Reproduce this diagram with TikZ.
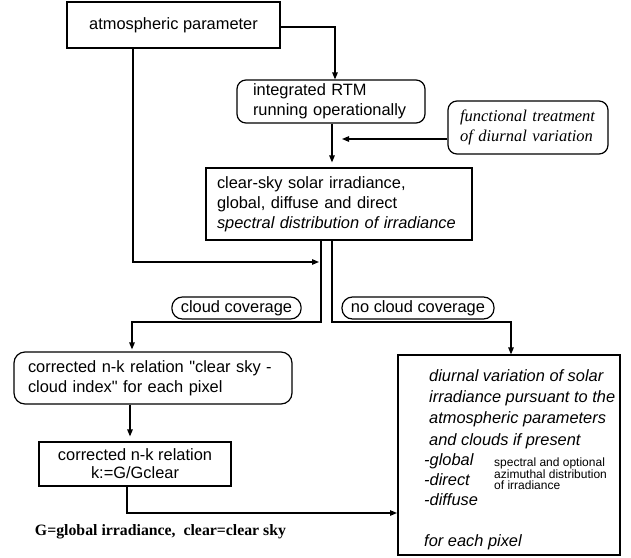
\documentclass[tikz,border=0pt]{standalone}
\usepackage{fontspec}
\setmainfont{Liberation Sans}[Ligatures=TeXOff]
\newfontfamily\serifit{Liberation Serif}
\usetikzlibrary{arrows.meta,calc}
\tikzset{
  lw/.style={line width=1.2pt},
  arr/.style={lw,-{Triangle[length=7pt,width=5.5pt]}},
  conn/.style={lw},
  sqbox/.style={draw,lw,inner ysep=0pt,align=left,font=\fontsize{16.4}{20}\selectfont},
  rbox/.style={sqbox,rounded corners=9pt},
  pill/.style={draw,lw,rounded corners=10.5pt,minimum height=22pt,inner xsep=9pt,inner ysep=0pt,font=\fontsize{16.4}{20}\selectfont},
  txt/.style={inner sep=0pt,align=left,anchor=west}
}
\begin{document}
\begin{tikzpicture}[x=1pt,y=-1pt]
\useasboundingbox (0,0) rectangle (631,557);
% boxes
\node[sqbox,align=center,minimum width=213pt,minimum height=46pt] (atm) at (173.5,25) {atmospheric parameter};
\node[rbox,text width=156pt,inner xsep=16pt,minimum height=43pt] (rtm) at (331,101.5) {integrated RTM\\running operationally};
\node[rbox,text width=136pt,inner xsep=12pt,minimum height=53pt,font=\serifit\itshape\fontsize{16.5}{20}\selectfont] (func) at (528,127.5) {functional treatment\\of diurnal variation};
\node[sqbox,text width=244pt,inner xsep=11pt,minimum height=72pt] (clear) at (339,204) {clear-sky solar irradiance,\\global, diffuse and direct\\\textit{spectral distribution of irradiance}};
\node[rbox,text width=250pt,inner xsep=14pt,minimum height=52pt,rounded corners=11pt] (nk1) at (153,378) {corrected n-k relation "clear sky -\\cloud index" for each pixel};
\node[sqbox,align=center,minimum width=192pt,minimum height=44pt,font=\fontsize{16.4}{18}\selectfont] (nk2) at (135,464) {corrected n-k relation\\k:=G/Gclear};
\node[draw,lw,minimum width=222pt,minimum height=200pt] (diur) at (509,455) {};
% text in diurnal box
\node[txt,font=\itshape\fontsize{16.4}{21.3}\selectfont] (dtext) at (429,409) {diurnal variation of solar\\irradiance pursuant to the\\atmospheric parameters\\and clouds if present};
\node[txt,font=\itshape\fontsize{16.4}{20}\selectfont] (dlist) at (424,480) {-global\\-direct\\-diffuse};
\node[txt,font=\fontsize{12}{11}\selectfont] (dsmall) at (494,474) {spectral and optional\\azimuthal distribution\\of irradiance};
\node[txt,font=\itshape\fontsize{16.4}{20}\selectfont] (dpix) at (424,542) {for each pixel};
% pills
\node[pill] (cc) at (236.5,308) {cloud coverage};
\node[pill] (ncc) at (418,308) {no cloud coverage};
% footnote
\node[inner sep=0pt,font=\serifit\bfseries\fontsize{15.8}{18}\selectfont] (foot) at (160.5,532) {G=global irradiance,\ \ clear=clear sky};
% coordinates
\coordinate (yc) at (0,322);
\coordinate (j1) at (319,262);
\coordinate (fj) at (342,139);
\coordinate (d1) at (397,513);
% connectors
\draw[arr] ([yshift=-2pt]atm.east) -| ([xshift=4pt]rtm.north);
\draw[arr] ([xshift=-40.5pt]atm.south) |- (j1);
\draw[arr,shorten >=5pt] ([xshift=1pt]rtm.south) -- ([xshift=1pt]rtm.south |- clear.north);
\draw[arr] ([yshift=-11.5pt]func.west) -- (fj);
\draw[arr,shorten >=2pt] ([xshift=-18pt]clear.south) -- ([xshift=-18pt]clear.south |- yc) -| ([xshift=-21pt]nk1.north);
\draw[arr] ([xshift=-7pt]clear.south) -- ([xshift=-7pt]clear.south |- yc) -| ([xshift=2pt]diur.north);
\draw[arr,shorten >=5pt] ([xshift=-23pt]nk1.south) -- ([xshift=-23pt]nk1.south |- nk2.north);
\draw[arr] ([xshift=-8pt]nk2.south) |- (d1);
\end{tikzpicture}
\end{document}
